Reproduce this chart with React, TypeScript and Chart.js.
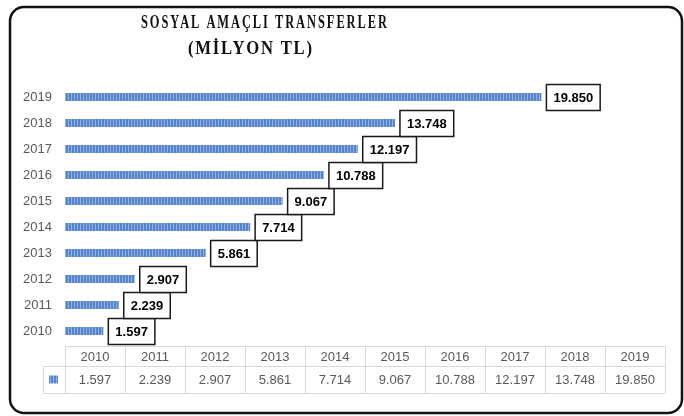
import { useEffect, useRef } from 'react';
import { Chart, registerables } from 'chart.js';
Chart.register(...registerables);

const years = ['2010', '2011', '2012', '2013', '2014', '2015', '2016', '2017', '2018', '2019'];
const values = [1597, 2239, 2907, 5861, 7714, 9067, 10788, 12197, 13748, 19850];
const valueLabels = ['1.597', '2.239', '2.907', '5.861', '7.714', '9.067', '10.788', '12.197', '13.748', '19.850'];
const titleLine1 = 'SOSYAL AMAÇLI TRANSFERLER';
const titleLine2 = '(MİLYON TL)';
const axisMax = 25000;

function makePattern(): CanvasPattern | string {
  const c = document.createElement('canvas');
  c.width = 3;
  c.height = 8;
  const g = c.getContext('2d');
  if (!g) return '#5b8bd0';
  g.fillStyle = '#5584ca';
  g.fillRect(0, 0, 3, 8);
  g.fillStyle = '#93b4e2';
  g.fillRect(2, 0, 1, 8);
  const p = g.createPattern(c, 'repeat');
  return p || '#5b8bd0';
}

function drawSpaced(ctx: CanvasRenderingContext2D, text: string, cx: number, cy: number, targetW: number, font: string, spacing: number) {
  ctx.save();
  ctx.font = font;
  (ctx as any).letterSpacing = spacing + 'px';
  const w = ctx.measureText(text).width - spacing;
  ctx.translate(cx, cy);
  ctx.scale(targetW / w, 1);
  ctx.textAlign = 'left';
  ctx.textBaseline = 'middle';
  ctx.fillStyle = '#111';
  ctx.fillText(text, -w / 2, 0);
  ctx.restore();
}

export default function App() {
  const ref = useRef<HTMLCanvasElement>(null);
  useEffect(() => {
    document.body.style.margin = '0';
    const canvas = ref.current;
    if (!canvas) return;
    const pattern = makePattern();

    const overlay = {
      id: 'overlay',
      afterDraw(chart: any) {
        const ctx: CanvasRenderingContext2D = chart.ctx;
        const area = chart.chartArea;
        // Title
        drawSpaced(ctx, titleLine1, 264, 23, 246, 'bold 19px "Liberation Serif"', 3);
        drawSpaced(ctx, titleLine2, 250, 49, 124, 'bold 19px "Liberation Serif"', 2);

        // Data labels
        const meta = chart.getDatasetMeta(0);
        ctx.save();
        ctx.font = 'bold 13px "Liberation Sans"';
        ctx.textBaseline = 'middle';
        ctx.textAlign = 'center';
        meta.data.forEach((el: any, i: number) => {
          const txt = valueLabels[i];
          const tw = ctx.measureText(txt).width;
          const bw = tw + 14;
          const bh = 26;
          const bx = el.x + 5;
          const by = el.y - bh / 2 + 0.5;
          ctx.fillStyle = '#fff';
          ctx.fillRect(bx, by, bw, bh);
          ctx.strokeStyle = '#1a1a1a';
          ctx.lineWidth = 1.5;
          ctx.strokeRect(bx, by, bw, bh);
          ctx.fillStyle = '#000';
          ctx.fillText(txt, bx + bw / 2, el.y + 1);
        });
        ctx.restore();

        // Data table
        const left = area.left;
        const right = area.right;
        const colW = (right - left) / years.length;
        const top = area.bottom + 2;
        const mid = top + 20;
        const bottom = mid + 27;
        const legL = left - 22;
        ctx.save();
        ctx.strokeStyle = '#d9d9d9';
        ctx.lineWidth = 1;
        ctx.beginPath();
        ctx.moveTo(left, top + 0.5); ctx.lineTo(right, top + 0.5);
        ctx.moveTo(legL, mid + 0.5); ctx.lineTo(right, mid + 0.5);
        ctx.moveTo(legL, bottom + 0.5); ctx.lineTo(right, bottom + 0.5);
        ctx.moveTo(legL + 0.5, mid); ctx.lineTo(legL + 0.5, bottom);
        for (let i = 0; i <= years.length; i++) {
          const x = Math.round(left + i * colW) + 0.5;
          ctx.moveTo(x, top); ctx.lineTo(x, bottom);
        }
        ctx.stroke();
        ctx.font = '13px "Liberation Sans"';
        ctx.fillStyle = '#595959';
        ctx.textAlign = 'center';
        ctx.textBaseline = 'middle';
        years.forEach((y, i) => {
          const cx = left + (i + 0.5) * colW;
          ctx.fillText(y, cx, (top + mid) / 2 + 1);
          ctx.fillText(valueLabels[i], cx, (mid + bottom) / 2 + 1);
        });
        ctx.fillStyle = pattern as any;
        ctx.fillRect(legL + 6, (mid + bottom) / 2 - 4, 9, 8);
        ctx.restore();

        // Frame
        ctx.save();
        ctx.strokeStyle = '#111';
        ctx.lineWidth = 2.5;
        ctx.beginPath();
        (ctx as any).roundRect(10, 7, 672, 406, 14);
        ctx.stroke();
        ctx.restore();
      },
    };

    const chart = new Chart(canvas, {
      type: 'bar',
      data: {
        labels: years,
        datasets: [
          {
            data: values,
            backgroundColor: pattern as any,
            borderWidth: 0,
            barPercentage: 0.62,
            categoryPercentage: 0.5,
          },
        ],
      },
      options: {
        indexAxis: 'y',
        responsive: false,
        animation: false,
        layout: { padding: { top: 84, bottom: 72, right: 19, left: 0 } },
        plugins: { legend: { display: false }, tooltip: { enabled: false }, title: { display: false } },
        scales: {
          x: { display: false, min: 0, max: axisMax },
          y: {
            reverse: true,
            grid: { display: false, drawTicks: false },
            border: { display: false },
            ticks: { color: '#595959', font: { family: 'Liberation Sans', size: 13 }, padding: 13 },
            afterFit: (s: any) => {
              s.width = 65;
            },
          },
        },
      },
      plugins: [overlay],
    });
    return () => chart.destroy();
  }, []);
  return <canvas ref={ref} width={684} height={416} style={{ display: 'block' }} />;
}
